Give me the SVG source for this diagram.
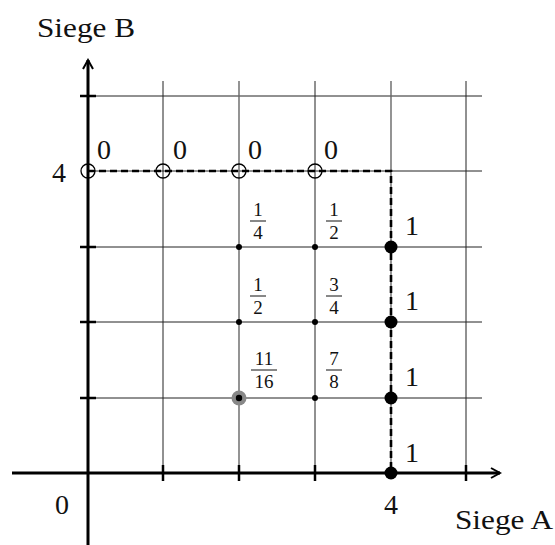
<svg xmlns="http://www.w3.org/2000/svg" width="555" height="545" viewBox="0 0 555 545">
<defs>
<style>
text{font-family:"Liberation Serif","DejaVu Serif",serif;fill:#111}
.lbl{font-size:28px}
.fr{font-size:19px;text-anchor:middle}
.grid{stroke:#222;stroke-width:1;fill:none}
.gridg{stroke:#666;stroke-width:1.4;fill:none}
.axis{stroke:#000;stroke-width:3;fill:none}
.tick{stroke:#000;stroke-width:2.5}
.bar{stroke:#111;stroke-width:1}
.open{fill:none;stroke:#000;stroke-width:1.3}
</style>
<marker id="arr" viewBox="0 0 12 12" refX="10" refY="6" markerWidth="12" markerHeight="12" markerUnits="userSpaceOnUse" orient="auto">
<path d="M1,1 L10,6 L1,11" fill="none" stroke="#000" stroke-width="2"/>
</marker>
</defs>
<g id="grid">
<line class="grid" x1="88" y1="96" x2="482" y2="96"/>
<line class="grid" x1="88" y1="171" x2="482" y2="171"/>
<line class="grid" x1="88" y1="247" x2="482" y2="247"/>
<line class="grid" x1="88" y1="322" x2="482" y2="322"/>
<line class="grid" x1="88" y1="398" x2="482" y2="398"/>
<line class="grid" x1="163" y1="81" x2="163" y2="473"/>
<line class="gridg" x1="239" y1="81" x2="239" y2="473"/>
<line class="grid" x1="315" y1="81" x2="315" y2="473"/>
<line class="gridg" x1="391" y1="81" x2="391" y2="473"/>
<line class="grid" x1="466" y1="81" x2="466" y2="473"/>
</g>
<g id="axes">
<line class="axis" x1="12" y1="473" x2="500" y2="473" marker-end="url(#arr)"/>
<line class="axis" x1="88" y1="545" x2="88" y2="60" marker-end="url(#arr)"/>
<line class="tick" x1="163" y1="465" x2="163" y2="481"/>
<line class="tick" x1="239" y1="465" x2="239" y2="481"/>
<line class="tick" x1="315" y1="465" x2="315" y2="481"/>
<line class="tick" x1="466" y1="465" x2="466" y2="481"/>
<line class="tick" x1="80" y1="96" x2="96" y2="96"/>
<line class="tick" x1="80" y1="247" x2="96" y2="247"/>
<line class="tick" x1="80" y1="322" x2="96" y2="322"/>
<line class="tick" x1="80" y1="398" x2="96" y2="398"/>
</g>
<g id="connectors">
<path d="M88,171 H391 V473" fill="none" stroke="#000" stroke-width="2.6" stroke-dasharray="7,4"/>
</g>
<g id="open-points">
<circle class="open" cx="88" cy="171" r="7"/>
<circle class="open" cx="163" cy="171" r="7"/>
<circle class="open" cx="239" cy="171" r="7"/>
<circle class="open" cx="315" cy="171" r="7"/>
</g>
<g id="filled-points">
<circle cx="391" cy="247" r="6.5"/>
<circle cx="391" cy="322" r="6.5"/>
<circle cx="391" cy="398" r="6.5"/>
<circle cx="391" cy="473" r="6.5"/>
</g>
<g id="small-points">
<circle cx="239" cy="247" r="3"/>
<circle cx="315" cy="247" r="3"/>
<circle cx="239" cy="322" r="3"/>
<circle cx="315" cy="322" r="3"/>
<circle cx="315" cy="398" r="3"/>
<circle cx="239" cy="398" r="7.5" fill="#888"/>
<circle cx="239" cy="398" r="3.2" fill="#000"/>
</g>
<g id="labels">
<text class="lbl" x="37" y="37" textLength="98" lengthAdjust="spacingAndGlyphs">Siege B</text>
<text class="lbl" x="455" y="529" textLength="98" lengthAdjust="spacingAndGlyphs">Siege A</text>
<text class="lbl" x="55" y="514">0</text>
<text class="lbl" x="384" y="514">4</text>
<text class="lbl" x="52" y="182">4</text>
<text class="lbl" x="97" y="159">0</text>
<text class="lbl" x="173" y="159">0</text>
<text class="lbl" x="248" y="159">0</text>
<text class="lbl" x="324" y="159">0</text>
<text class="lbl" x="405" y="235">1</text>
<text class="lbl" x="405" y="310">1</text>
<text class="lbl" x="405" y="386">1</text>
<text class="lbl" x="405" y="462">1</text>
</g>
<g id="fractions">
<text class="fr" x="258" y="216">1</text><line class="bar" x1="250" y1="221" x2="266" y2="221"/><text class="fr" x="258" y="239">4</text>
<text class="fr" x="334" y="216">1</text><line class="bar" x1="326" y1="221" x2="342" y2="221"/><text class="fr" x="334" y="239">2</text>
<text class="fr" x="258" y="291">1</text><line class="bar" x1="250" y1="296" x2="266" y2="296"/><text class="fr" x="258" y="314">2</text>
<text class="fr" x="334" y="291">3</text><line class="bar" x1="326" y1="296" x2="342" y2="296"/><text class="fr" x="334" y="314">4</text>
<text class="fr" x="264" y="365">11</text><line class="bar" x1="251" y1="370" x2="277" y2="370"/><text class="fr" x="264" y="388">16</text>
<text class="fr" x="334" y="365">7</text><line class="bar" x1="326" y1="370" x2="342" y2="370"/><text class="fr" x="334" y="388">8</text>
</g>
</svg>
